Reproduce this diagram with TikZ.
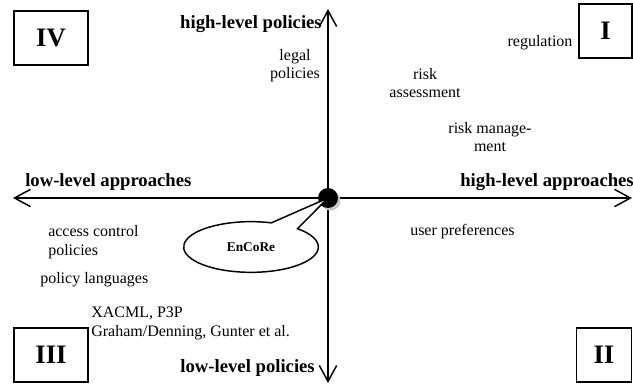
\documentclass[tikz,border=0pt]{standalone}
\usepackage{fontspec}
\setmainfont{Liberation Serif}
\usetikzlibrary{arrows.meta,shapes.callouts}
\begin{document}
\begin{tikzpicture}[x=0.75pt,y=-0.75pt,
  axis/.style={line width=1.1pt,{Straight Barb[length=12pt,width=13pt,line width=1.1pt]}-{Straight Barb[length=12pt,width=13pt,line width=1.1pt]}},
  txt/.style={inner sep=0pt,font=\fontsize{12}{13.5}\selectfont},
  bold/.style={inner sep=0pt,font=\fontsize{14}{16}\selectfont\bfseries},
  quad/.style={draw,line width=1.1pt,minimum width=55.5pt,minimum height=40.5pt,inner sep=0pt,font=\fontsize{20}{22}\selectfont\bfseries}]
\useasboundingbox (0,0) rectangle (633,385);
% axes
\coordinate (top) at (328,9);
\coordinate (bot) at (328,383);
\coordinate (lft) at (13,198);
\coordinate (rgt) at (632,198);
\draw[axis] (bot) -- (top);
\draw[axis] (lft) -- (rgt);
% origin dot
\fill[gray!45] (330.5,200.5) circle (10);
\node[circle,fill=black,minimum size=15pt,inner sep=0pt] (o) at (328,198) {};
% quadrant boxes
\node[quad] (q4) at (51,38) {IV};
\node[quad,minimum width=39.5pt] (q1) at (605.5,31) {I};
\node[quad] (q3) at (51,355) {III};
\node[quad,minimum width=41.5pt] (q2) at (604,355) {II};
% axis labels
\node[bold,anchor=base east] (hlp) at (322,28.5) {high-level policies};
\node[bold,anchor=base east] (hla) at (634,186) {high-level approaches};
\node[bold,anchor=base west] (lla) at (25,186) {low-level approaches};
\node[bold,anchor=base east] (llp) at (315,373) {low-level policies};
% items
\node[txt,align=center] (legal) at (295,66) {legal\\policies};
\node[txt,anchor=base] (reg) at (540,46.5) {regulation};
\node[txt,align=center] (ra) at (425,83) {risk\\assessment};
\node[txt,align=center] (rm) at (490,137) {risk manage-\\ment};
\node[txt,anchor=base west] (up) at (410,236) {user preferences};
\node[txt,anchor=base west] (acp1) at (48,237) {access control};
\node[txt,anchor=base west] (acp2) at (48,255) {policies};
\node[txt,anchor=base west] (pl) at (40,283) {policy languages};
\node[txt,anchor=base west] (xa) at (91,317) {XACML, P3P};
\node[txt,anchor=base west] (gd) at (91,336) {Graham/Denning, Gunter et al.};
% callout
\node[ellipse callout,draw,line width=1.1pt,fill=white,minimum width=101pt,minimum height=38pt,inner sep=0pt,
  callout absolute pointer={(o.center)},callout pointer arc=26,
  font=\fontsize{10}{12}\selectfont\bfseries] (enc) at (251,247) {EnCoRe};
\end{tikzpicture}
\end{document}
